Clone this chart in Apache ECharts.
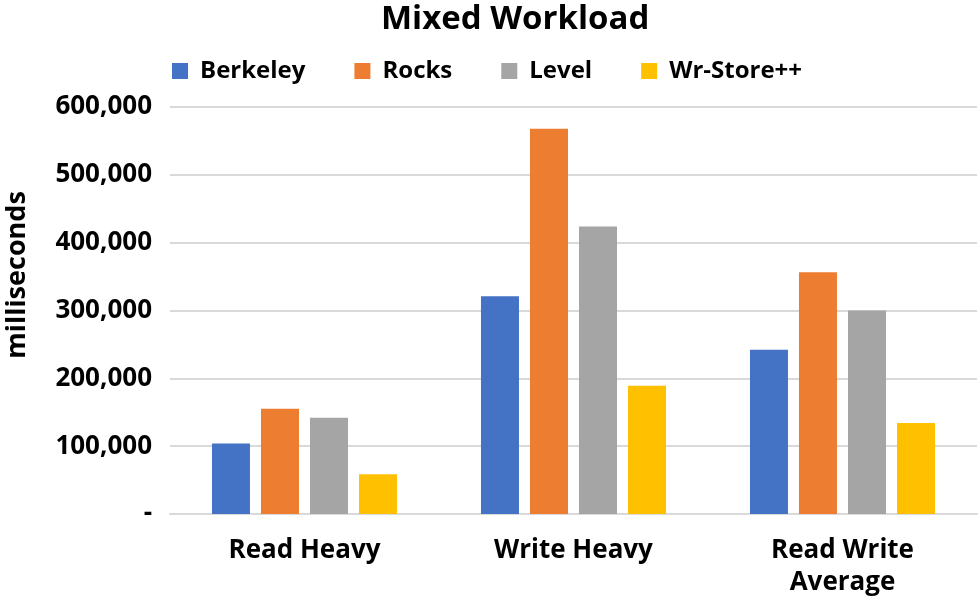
<!DOCTYPE html>
<html>
<head>
<meta charset="utf-8">
<script src="https://cdn.jsdelivr.net/npm/echarts@6/dist/echarts.min.js"></script>
<style>html,body{margin:0;padding:0;background:#fff}#c{width:980px;height:601px}</style>
</head>
<body>
<div id="c"></div>
<script>
const categories = ['Read Heavy', 'Write Heavy', 'Read Write\nAverage'];
const seriesNames = ['Berkeley', 'Rocks', 'Level', 'Wr-Store++'];
const berkeley = [104000, 321000, 242000];
const rocks = [155000, 568000, 356500];
const level = [142000, 424000, 300000];
const wrStore = [58500, 189000, 134000];
const colors = ['#4472C4', '#ED7D31', '#A5A5A5', '#FFC000'];
const FONT = 'Open Sans';

const chart = echarts.init(document.getElementById('c'));
const dataSets = [berkeley, rocks, level, wrStore];
chart.setOption({
  animation: false,
  title: {
    text: 'Mixed Workload', left: 376, top: -2,
    textStyle: { fontFamily: FONT, fontWeight: 'bold', fontSize: 33, color: '#000' }
  },
  legend: {
    top: 54, left: 167, itemWidth: 16, itemHeight: 16, itemGap: 49,
    icon: 'rect',
    textStyle: { fontFamily: FONT, fontWeight: 'bold', fontSize: 24, color: '#000', padding: [0, 0, 0, 7] },
    data: seriesNames
  },
  grid: { left: 170, right: 3, top: 107, bottom: 87 },
  xAxis: {
    type: 'category', data: categories,
    axisLine: { lineStyle: { color: '#D9D9D9', width: 2 } },
    axisTick: { show: false },
    axisLabel: { fontFamily: FONT, fontWeight: 'bold', fontSize: 26, color: '#000', margin: 21, lineHeight: 32 }
  },
  yAxis: {
    type: 'value', min: 0, max: 600000, interval: 100000,
    axisLine: { show: false }, axisTick: { show: false },
    splitLine: { lineStyle: { color: '#D9D9D9', width: 2 } },
    axisLabel: {
      fontFamily: FONT, fontWeight: 'bold', fontSize: 26, color: '#000', margin: 18,
      formatter: v => v === 0 ? '-' : v.toLocaleString('en-US')
    }
  },
  graphic: [{
    type: 'text', x: 17, y: 275, rotation: Math.PI / 2,
    style: { text: 'milliseconds', fontFamily: FONT, fontWeight: 'bold', fontSize: 27, fill: '#000', align: 'center', verticalAlign: 'middle' }
  }],
  series: dataSets.map((d, i) => ({
    name: seriesNames[i], type: 'bar', data: d, barWidth: 38, barGap: '29%',
    itemStyle: { color: colors[i] }
  }))
});
</script>
</body>
</html>
